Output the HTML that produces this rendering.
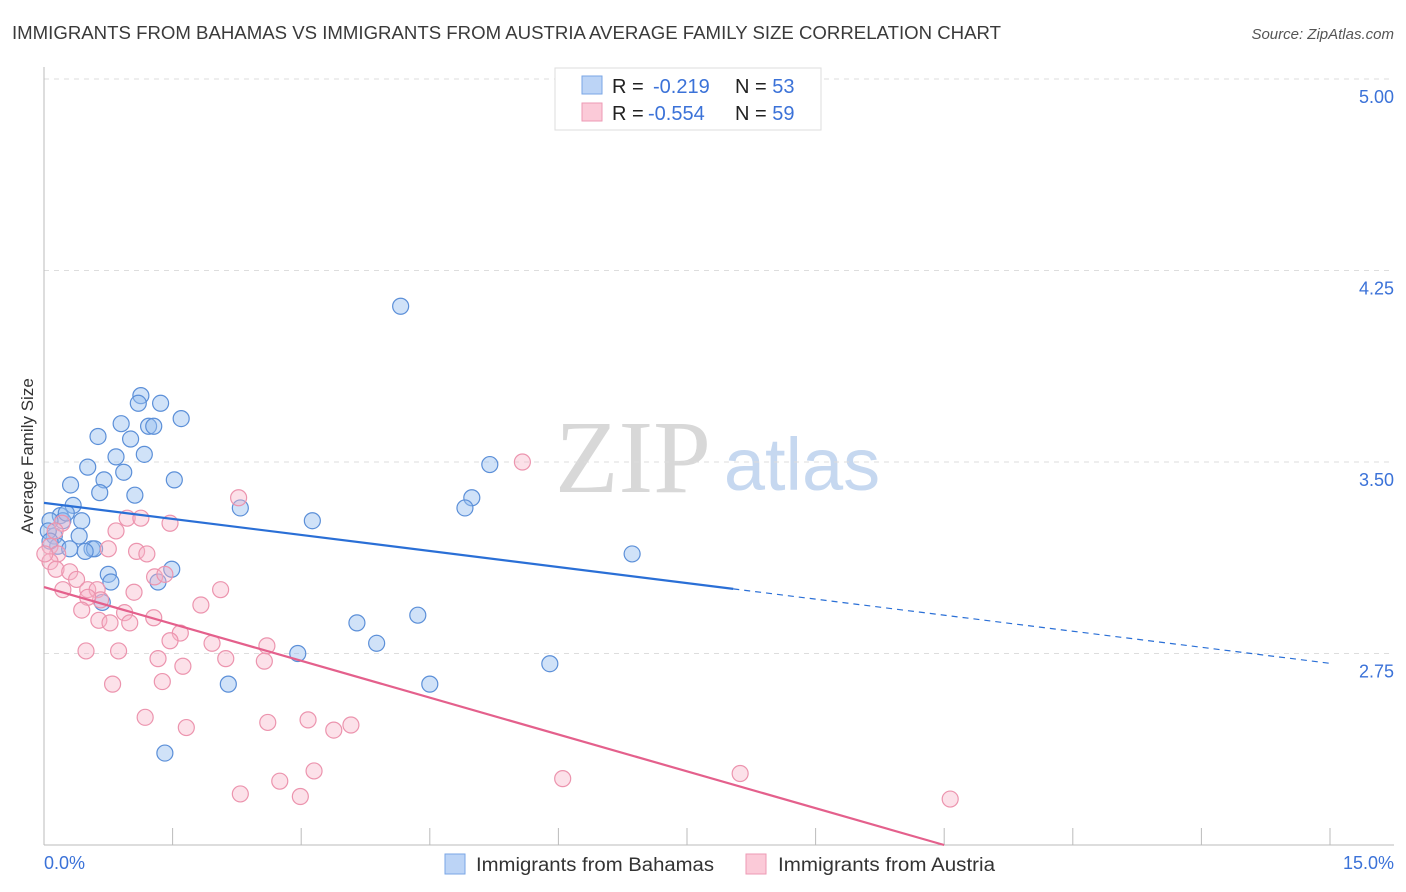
<!DOCTYPE html>
<html><head><meta charset="utf-8"><style>
body{margin:0;background:#fff;font-family:"Liberation Sans",sans-serif;}
svg{display:block}
</style></head><body>
<svg id="chart" width="1406" height="892" viewBox="0 0 1406 892">
<text x="12" y="39" font-size="18.6" fill="#3a3a3a" textLength="989" lengthAdjust="spacingAndGlyphs">IMMIGRANTS FROM BAHAMAS VS IMMIGRANTS FROM AUSTRIA AVERAGE FAMILY SIZE CORRELATION CHART</text>
<text x="1394" y="39" font-size="15" fill="#555" font-style="italic" text-anchor="end">Source: ZipAtlas.com</text>
<g>
<text x="633" y="492" font-size="104" font-family="Liberation Serif,serif" fill="#d8d8d8" text-anchor="middle">ZIP</text>
<text x="802" y="490" font-size="74" fill="#c6d8f0" text-anchor="middle">atlas</text>
</g>
<g id="grid"></g>
<g id="axes"></g>
<g id="points"></g>
<g id="lines"></g>
<text transform="translate(33,456) rotate(-90)" font-size="17" fill="#333" text-anchor="middle">Average Family Size</text>
<text x="44" y="869" font-size="18" fill="#3b72d8">0.0%</text>
<text x="1394" y="869" font-size="18" fill="#3b72d8" text-anchor="end">15.0%</text>
<g>
<rect x="555" y="68" width="266" height="62" fill="#fff" stroke="#ddd"/>
<rect x="582" y="76" width="20" height="18" fill="#bcd4f6" stroke="#7aa6e6"/>
<rect x="582" y="103" width="20" height="18" fill="#fbcad8" stroke="#ee9ab4"/>
<text x="612" y="93" font-size="20" fill="#222">R = <tspan x="653" fill="#3b72d8">-0.219</tspan><tspan x="735">N = </tspan><tspan fill="#3b72d8">53</tspan></text>
<text x="612" y="120" font-size="20" fill="#222">R = <tspan x="648" fill="#3b72d8">-0.554</tspan><tspan x="735">N = </tspan><tspan fill="#3b72d8">59</tspan></text>
</g>
<g>
<rect x="445" y="854" width="20" height="20" fill="#bcd4f6" stroke="#7aa6e6"/>
<text x="476" y="871" font-size="19" fill="#333" textLength="238" lengthAdjust="spacingAndGlyphs">Immigrants from Bahamas</text>
</g>
<g>
<rect x="746" y="854" width="20" height="20" fill="#fbcad8" stroke="#ee9ab4"/>
<text x="778" y="871" font-size="19" fill="#333" textLength="217" lengthAdjust="spacingAndGlyphs">Immigrants from Austria</text>
</g>
</svg>
<script>
const yTicks=[5.00,4.25,3.50,2.75];
const xTicks=[0,1.5,3,4.5,6,7.5,9,10.5,12,13.5,15];
const bahamasX=[4.16,1.13,1.10,1.36,1.60,0.90,1.22,1.28,0.63,1.01,0.84,1.17,5.20,0.51,0.93,1.52,0.31,0.70,0.65,1.06,4.99,0.34,4.91,2.29,3.13,0.19,0.22,0.44,0.07,0.26,0.41,0.12,0.56,0.59,0.48,0.16,6.86,1.49,0.75,0.78,1.33,0.68,4.36,3.65,3.88,2.96,5.90,2.15,4.50,1.41,0.05,0.07,0.30];
const bahamasY=[4.11,3.76,3.73,3.73,3.67,3.65,3.64,3.64,3.60,3.59,3.52,3.53,3.49,3.48,3.46,3.43,3.41,3.43,3.38,3.37,3.36,3.33,3.32,3.32,3.27,3.29,3.27,3.27,3.27,3.30,3.21,3.21,3.16,3.16,3.15,3.17,3.14,3.08,3.06,3.03,3.03,2.95,2.90,2.87,2.79,2.75,2.71,2.63,2.63,2.36,3.23,3.19,3.16];
const austriaX=[5.58,2.27,0.97,1.13,1.47,0.84,0.21,0.13,0.07,0.75,1.08,1.20,0.16,0.07,0.14,0.30,1.29,0.38,1.41,0.22,0.51,0.62,2.06,1.05,0.66,0.51,1.83,0.44,0.94,1.28,0.64,0.77,1.00,1.59,1.47,1.96,2.60,0.49,0.87,1.33,2.12,2.57,1.62,1.38,0.80,1.18,1.66,2.61,3.08,3.58,3.38,3.15,2.75,6.05,8.12,2.29,2.99,10.57,0.01];
const austriaY=[3.50,3.36,3.28,3.28,3.26,3.23,3.26,3.23,3.17,3.16,3.15,3.14,3.14,3.11,3.08,3.07,3.05,3.04,3.06,3.00,3.00,3.00,3.00,2.99,2.96,2.97,2.94,2.92,2.91,2.89,2.88,2.87,2.87,2.83,2.80,2.79,2.78,2.76,2.76,2.73,2.73,2.72,2.70,2.64,2.63,2.50,2.46,2.48,2.49,2.47,2.45,2.29,2.25,2.26,2.28,2.20,2.19,2.18,3.14];
const blueTrend=[3.34,-0.0419];
const pinkTrend=[3.01,-0.0962];
const blueSolidEnd=8.04;

const NS='http://www.w3.org/2000/svg';
const X0=44,X1=1330,Y0=845,Y1=79;
const sx=v=>X0+(v/15)*(X1-X0);
const sy=v=>Y0-(v-2)/3*(Y0-Y1);
function mk(tag,attrs,parent){const e=document.createElementNS(NS,tag);for(const k in attrs)e.setAttribute(k,attrs[k]);document.getElementById(parent).appendChild(e);return e;}
yTicks.forEach(t=>{
  const l=mk('line',{x1:X0,x2:1394,y1:sy(t),y2:sy(t),stroke:'#ddd','stroke-dasharray':'5,5'},'grid');
  
  
  const tx=mk('text',{x:1394,y:sy(t)+24,'font-size':18,fill:'#3b72d8','text-anchor':'end'},'grid');
  tx.textContent=t.toFixed(2);
  
  
});
let a=mk('line',{x1:X0,x2:X0,y1:67,y2:Y0,stroke:'#bbb'},'axes');


a=mk('line',{x1:X0,x2:1394,y1:Y0,y2:Y0,stroke:'#bbb'},'axes');


xTicks.forEach(t=>{
  const l=mk('line',{x1:sx(t),x2:sx(t),y1:Y0-17,y2:Y0,stroke:'#bbb'},'axes');
  
  
});
bahamasX.forEach((v,i)=>{
  const c=mk('circle',{cx:sx(v),cy:sy(bahamasY[i]),r:8,fill:'rgba(150,190,240,0.45)',stroke:'#5b8fd8','stroke-width':1.2},'points');
  
  
});
austriaX.forEach((v,i)=>{
  const c=mk('circle',{cx:sx(v),cy:sy(austriaY[i]),r:8,fill:'rgba(248,180,200,0.4)',stroke:'#ec94ae','stroke-width':1.2},'points');
  
  
});
const bf=x=>blueTrend[0]+blueTrend[1]*x, pf=x=>pinkTrend[0]+pinkTrend[1]*x;
let t=mk('line',{x1:sx(0),y1:sy(bf(0)),x2:sx(blueSolidEnd),y2:sy(bf(blueSolidEnd)),stroke:'#2a6fd6','stroke-width':2.2},'lines');


t=mk('line',{x1:sx(blueSolidEnd),y1:sy(bf(blueSolidEnd)),x2:sx(15),y2:sy(bf(15)),stroke:'#2a6fd6','stroke-width':1.2,'stroke-dasharray':'6,5'},'lines');


const pEnd=(2-pinkTrend[0])/pinkTrend[1];
t=mk('line',{x1:sx(0),y1:sy(pf(0)),x2:sx(pEnd),y2:sy(2),stroke:'#e4608c','stroke-width':2.2},'lines');


</script>
</body></html>
